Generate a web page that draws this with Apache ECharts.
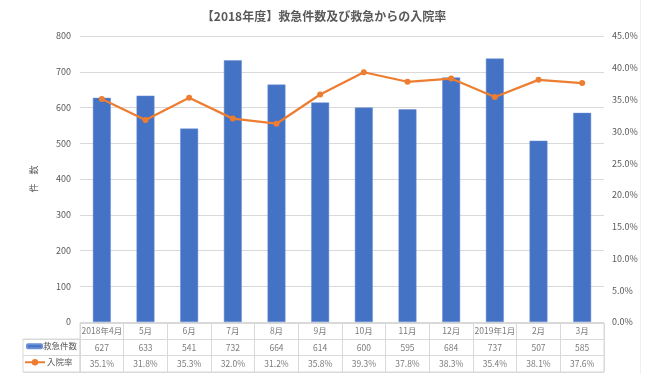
<!DOCTYPE html>
<html><head><meta charset="utf-8">
<script src="https://cdn.jsdelivr.net/npm/echarts@6/dist/echarts.min.js"></script>
<style>html,body{margin:0;padding:0;background:#fff}#c{width:648px;height:374px}</style>
</head><body><div id="c"></div>
<script>
const titleText = '【2018年度】救急件数及び救急からの入院率';
const categories = ['2018年4月','5月','6月','7月','8月','9月','10月','11月','12月','2019年1月','2月','3月'];
const counts = [627,633,541,732,664,614,600,595,684,737,507,585];
const rates = [35.1,31.8,35.3,32.0,31.2,35.8,39.3,37.8,38.3,35.4,38.1,37.6];
const countTicks = {min:0, max:800, interval:100};
const rateTicks = {min:0, max:45, interval:5};
const seriesNames = ['救急件数','入院率'];

const FONT = '"Noto Sans CJK JP", "Noto Sans", sans-serif';
const GRAY = '#595959';
const LINEC = '#d9d9d9';
const BLUE = '#4472C4';
const ORANGE = '#ED7D31';

const tableRows = ['cat','count','rate'];
const tableData = [];
categories.forEach((c,i)=>{
  tableData.push([i,'cat',c]);
  tableData.push([i,'count',String(counts[i])]);
  tableData.push([i,'rate',rates[i].toFixed(1)+'%']);
});

const chart = echarts.init(document.getElementById('c'));
chart.setOption({
  animation:false,
  textStyle:{fontFamily:FONT},
  title:{text:titleText,left:'center',top:5,textStyle:{fontFamily:FONT,fontSize:12,fontWeight:'bold',color:GRAY}},
  legend:[
    {data:[seriesNames[0]],left:26,top:342,itemWidth:15,itemHeight:4,itemGap:2,textStyle:{fontSize:8.5,color:GRAY,padding:[0,0,0,-4]},selectedMode:false,padding:0},
    {data:[seriesNames[1]],left:24,top:358,itemWidth:20,itemHeight:8,textStyle:{fontSize:8.5,color:GRAY,padding:[0,0,0,-3]},selectedMode:false,padding:0}
  ],
  grid:[
    {left:80,right:44,top:36,bottom:52},
    {left:80,right:44,top:323,height:49,show:true,borderColor:LINEC,borderWidth:1},
    {left:23,width:57,top:339,height:33,show:true,borderColor:LINEC,borderWidth:1}
  ],
  xAxis:[
    {type:'category',gridIndex:0,data:categories,axisLine:{show:false},axisTick:{show:false},axisLabel:{show:false}},
    {type:'category',gridIndex:1,data:categories,axisLine:{show:false},axisTick:{show:false,interval:0},axisLabel:{show:false,interval:0},
      splitLine:{show:true,interval:0,lineStyle:{color:LINEC,width:1}}},
    {type:'value',gridIndex:2,show:false}
  ],
  yAxis:[
    {type:'value',gridIndex:0,min:countTicks.min,max:countTicks.max,interval:countTicks.interval,
      name:'件　数',nameLocation:'middle',nameRotate:90,nameGap:42,nameTextStyle:{fontSize:9,color:GRAY},
      axisLine:{show:false},axisTick:{show:false},axisLabel:{fontSize:9,color:GRAY,margin:9},
      splitLine:{lineStyle:{color:LINEC,width:1}}},
    {type:'value',gridIndex:0,position:'right',min:rateTicks.min,max:rateTicks.max,interval:rateTicks.interval,
      axisLine:{show:false},axisTick:{show:false},splitLine:{show:false},
      axisLabel:{fontSize:9,color:GRAY,margin:8,formatter:v=>v.toFixed(1)+'%'}},
    {type:'category',gridIndex:1,data:tableRows,inverse:true,axisLine:{show:false},axisTick:{show:false,interval:0},axisLabel:{show:false,interval:0},
      splitLine:{show:true,interval:0,lineStyle:{color:LINEC,width:1}}},
    {type:'category',gridIndex:2,data:['count','rate'],inverse:true,axisLine:{show:false},axisTick:{show:false,interval:0},axisLabel:{show:false,interval:0},
      splitLine:{show:true,interval:0,lineStyle:{color:LINEC,width:1}}}
  ],
  series:[
    {name:seriesNames[0],type:'bar',xAxisIndex:0,yAxisIndex:0,data:counts,barWidth:'41%',
      itemStyle:{color:BLUE,borderColor:'#6a8fd4',borderWidth:0.5}},
    {name:seriesNames[1],type:'line',xAxisIndex:0,yAxisIndex:1,data:rates,symbol:'circle',symbolSize:6,
      lineStyle:{color:ORANGE,width:2.25},itemStyle:{color:ORANGE}},
    {type:'scatter',xAxisIndex:1,yAxisIndex:2,data:tableData,symbolSize:0,silent:true,
      label:{show:true,position:'inside',formatter:p=>p.value[2],fontSize:8.5,color:GRAY,fontFamily:FONT}}
  ],
  graphic:[{type:'rect',shape:{x:640,y:0,width:1,height:374},style:{fill:'#f0f0f0'},silent:true}]
});
</script></body></html>
